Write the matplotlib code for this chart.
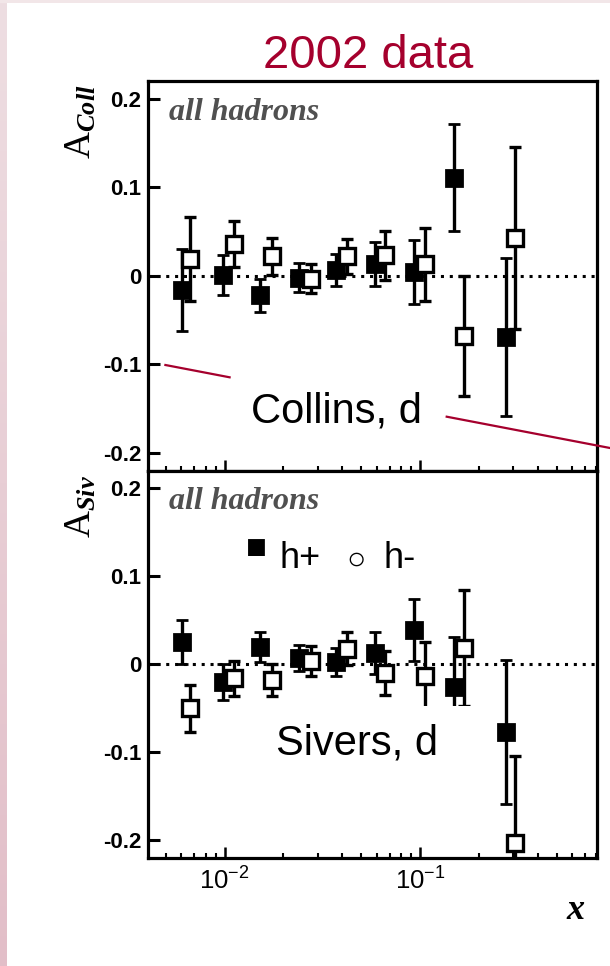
import matplotlib
matplotlib.use('Agg')
import matplotlib.pyplot as plt
import numpy as np
from matplotlib.lines import Line2D
from matplotlib.patches import Rectangle
from matplotlib.ticker import FixedLocator, LogLocator, NullLocator

plt.rcParams['font.family'] = ['Liberation Sans', 'DejaVu Sans']
plt.rcParams['mathtext.fontset'] = 'custom'
plt.rcParams['mathtext.rm'] = 'Liberation Serif'
plt.rcParams['mathtext.it'] = 'Liberation Serif:italic:bold'
plt.rcParams['mathtext.bf'] = 'Liberation Serif:bold'
plt.rcParams['mathtext.sf'] = 'Liberation Sans'

# ---------------- data ----------------
x_hplus = [0.00604, 0.00986, 0.01524, 0.0241, 0.0373, 0.0590, 0.0933, 0.150, 0.274]
x_hminus = [0.00668, 0.01122, 0.0175, 0.0277, 0.0423, 0.0662, 0.1062, 0.168, 0.308]

collins_hplus = [-0.016, 0.001, -0.022, -0.002, 0.007, 0.013, 0.004, 0.111, -0.069]
collins_hplus_err = [0.046, 0.023, 0.019, 0.016, 0.018, 0.025, 0.036, 0.060, 0.089]
collins_hminus = [0.019, 0.036, 0.022, -0.003, 0.022, 0.023, 0.013, -0.068, 0.043]
collins_hminus_err = [0.047, 0.026, 0.021, 0.016, 0.020, 0.028, 0.041, 0.068, 0.103]

sivers_hplus = [0.025, -0.020, 0.020, 0.007, 0.003, 0.013, 0.039, -0.026, -0.077]
sivers_hplus_err = [0.025, 0.020, 0.017, 0.015, 0.016, 0.024, 0.035, 0.057, 0.082]
sivers_hminus = [-0.050, -0.016, -0.018, 0.004, 0.018, -0.010, -0.013, 0.019, -0.203]
sivers_hminus_err = [0.027, 0.020, 0.018, 0.017, 0.019, 0.025, 0.038, 0.066, 0.099]

ytick_values = [-0.2, -0.1, 0.0, 0.1, 0.2]
ytick_labels = ['-0.2', '-0.1', '0', '0.1', '0.2']
xtick_values = [1e-2, 1e-1]
xtick_labels = [r'$\mathsf{10^{-2}}$', r'$\mathsf{10^{-1}}$']

title_text = '2002 data'
panel_tag = 'all hadrons'
collins_label = 'Collins, d'
sivers_label = 'Sivers, d'
accent = '#A5002D'

# ---------------- figure ----------------
W, H = 610, 966
fig = plt.figure(figsize=(W / 100, H / 100), dpi=100)
fig.patch.set_facecolor('white')


def fx(px):
    return px / W


def fy(py):
    return 1 - py / H


# pink slide border
grad_ax = fig.add_axes([0, 0, 6 / W, 1])
grad = np.linspace(0, 1, 256).reshape(-1, 1)
top_c = np.array([238, 222, 226]) / 255
bot_c = np.array([226, 190, 200]) / 255
img = top_c[None, None, :] * (1 - grad[:, :, None]) + bot_c[None, None, :] * grad[:, :, None]
grad_ax.imshow(img, aspect='auto', extent=[0, 1, 0, 1])
grad_ax.axis('off')
fig.add_artist(Rectangle((0, fy(3)), 1, 3 / H, transform=fig.transFigure,
                         facecolor=(0.95, 0.9, 0.91), edgecolor='none'))

L, R = 148, 597
T1, B1 = 81, 470.7
B2 = 858
ax1 = fig.add_axes([fx(L), fy(B1), (R - L) / W, (B1 - T1) / H])
ax2 = fig.add_axes([fx(L), fy(B2), (R - L) / W, (B2 - B1) / H], sharex=ax1)

ax1.set_xscale('log')
ax1.set_xlim(0.00405, 0.805)


def draw_panel(ax, vp, ep, vm, em):
    ax.axhline(0, color='black', lw=2.2, linestyle=(0, (1, 1.9)), zorder=1)
    ax.errorbar(x_hplus, vp, yerr=ep, fmt='s', ms=12, mfc='black', mec='black',
                mew=2.0, ecolor='black', elinewidth=2.4, capsize=4.2, capthick=2.4,
                zorder=3)
    ax.errorbar(x_hminus, vm, yerr=em, fmt='s', ms=12, mfc='white', mec='black',
                mew=2.4, ecolor='black', elinewidth=2.4, capsize=4.2, capthick=2.4,
                zorder=4)
    ax.set_ylim(-0.22, 0.22)
    ax.yaxis.set_major_locator(FixedLocator(ytick_values))
    ax.set_yticklabels(ytick_labels, fontweight='bold', fontsize=16)
    ax.yaxis.set_minor_locator(NullLocator())
    ax.tick_params(axis='y', which='major', direction='in', length=8.6, width=2.2,
                   left=True, right=False, pad=5)
    ax.tick_params(axis='x', which='major', direction='in', length=8, width=1.8,
                   top=False, bottom=True)
    ax.tick_params(axis='x', which='minor', direction='in', length=3.8, width=1.5,
                   top=False, bottom=True)
    for sp in ax.spines.values():
        sp.set_linewidth(2.3)
    ax.text(0.047, 0.900, panel_tag, transform=ax.transAxes, fontsize=23,
            family='Liberation Serif', style='italic', weight='bold',
            color='#505050', va='baseline', ha='left')


draw_panel(ax1, collins_hplus, collins_hplus_err, collins_hminus, collins_hminus_err)
draw_panel(ax2, sivers_hplus, sivers_hplus_err, sivers_hminus, sivers_hminus_err)

ax1.xaxis.set_major_locator(FixedLocator(xtick_values))
ax1.xaxis.set_minor_locator(LogLocator(base=10, subs=np.arange(2, 10)))
ax2.set_xticks(xtick_values)
ax2.set_xticklabels(xtick_labels, fontsize=18.5)
ax2.tick_params(axis='x', which='major', pad=7)
ax1.tick_params(axis='x', labelbottom=False)
ax2.tick_params(axis='x', which='minor', labelbottom=False)

# y labels
ax1.text(-0.149, 0.896, r'$\mathrm{A}_{Coll}$', transform=ax1.transAxes,
         rotation=90, fontsize=27, ha='center', va='center')
ax2.text(-0.149, 0.909, r'$\mathrm{A}_{Siv}$', transform=ax2.transAxes,
         rotation=90, fontsize=27, ha='center', va='center')
ax2.text(0.953, -0.134, r'$x$', transform=ax2.transAxes, fontsize=26,
         ha='center', va='center')

# slide annotations
fig.text(fx(368), fy(68), title_text, color=accent, fontsize=34,
         ha='center', va='baseline')
fig.text(fx(336.5), fy(423), collins_label, fontsize=30, ha='center',
         va='baseline', color='black', zorder=10)
# white text-box background behind "Sivers, d" (slide text box)
fig.add_artist(Rectangle((fx(252), fy(768)), (474 - 252) / W, (768 - 706) / H,
                         transform=fig.transFigure, facecolor='white',
                         edgecolor='none', zorder=9))
fig.text(fx(276), fy(755), sivers_label, fontsize=30, ha='left',
         va='baseline', color='black', zorder=10)

# legend text
fig.text(fx(256.5), fy(558), '\u25A0', fontsize=25, ha='center', va='baseline', zorder=10)
fig.text(fx(280), fy(568), 'h+', fontsize=26, ha='left', va='baseline', zorder=10)
fig.text(fx(356), fy(569), '\u25CB', fontsize=23, ha='center', va='baseline', zorder=10)
fig.text(fx(383), fy(568), 'h-', fontsize=26, ha='left', va='baseline', zorder=10)

# pink pointer lines
fig.add_artist(Line2D([fx(165.4), fx(229.6)], [fy(365), fy(377.3)],
                      transform=fig.transFigure, color=accent, lw=1.6, zorder=10))
fig.add_artist(Line2D([fx(446.7), fx(610)], [fy(416.7), fy(448)],
                      transform=fig.transFigure, color=accent, lw=1.6, zorder=10))

fig.savefig('out.png', dpi=100)
